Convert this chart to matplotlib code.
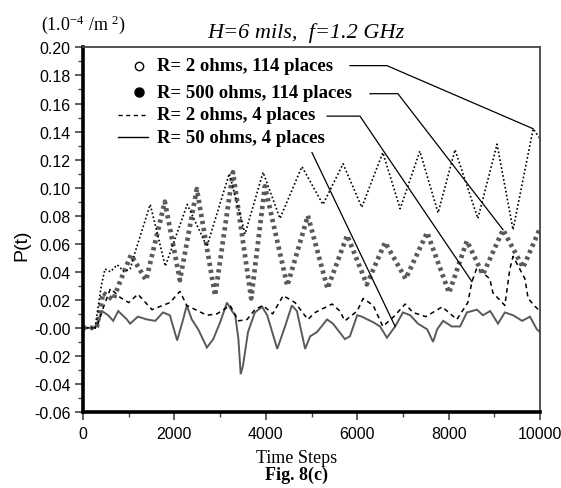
import matplotlib
matplotlib.use('Agg')
import matplotlib.pyplot as plt
from matplotlib.ticker import MultipleLocator, FuncFormatter

# Values (time step, P(t) in 1e-4/m^2)
# R= 2 ohms, 114 places (open circles, black dotted)
t_r2_114 = [0, 263, 400, 480, 600, 750, 900, 1030, 1140, 1470, 1800, 2280, 2710,
            3200, 3545, 3940, 4310, 4790, 5250, 5690, 6100, 6560, 6940, 7370,
            7770, 8140, 8640, 9060, 9410, 9850, 10000]
p_r2_114 = [0.0, 0.0, 0.030, 0.042, 0.040, 0.045, 0.040, 0.042, 0.054, 0.088, 0.044,
            0.088, 0.058, 0.110, 0.067, 0.111, 0.078, 0.115, 0.088, 0.117, 0.086,
            0.125, 0.085, 0.126, 0.082, 0.127, 0.078, 0.131, 0.070, 0.142, 0.135]

# R= 500 ohms, 114 places (filled circles, grey)
t_r500_114 = [0, 300, 440, 660, 810, 1050, 1380, 1790, 2120, 2490, 2890, 3280,
              3680, 3980, 4470, 4920, 5350, 5780, 6210, 6610, 7060, 7530, 8010,
              8400, 8750, 9190, 9630, 10000]
p_r500_114 = [0.0, 0.0, 0.025, 0.020, 0.033, 0.052, 0.034, 0.090, 0.034, 0.099,
              0.023, 0.111, 0.021, 0.101, 0.030, 0.080, 0.028, 0.066, 0.031, 0.061,
              0.035, 0.068, 0.025, 0.062, 0.038, 0.070, 0.043, 0.071]

# R= 2 ohms, 4 places (black dashed)
t_r2_4 = [0, 300, 450, 600, 800, 1000, 1200, 1510, 1900, 2120, 2270, 2710, 2930,
          3220, 3400, 3590, 3760, 3940, 4150, 4380, 4640, 4920, 5080, 5450, 5620,
          5730, 6000, 6130, 6350, 6560, 6800, 7050, 7220, 7500, 7860, 8180, 8420,
          8510, 8620, 8900, 8970, 9230, 9340, 9410, 9670, 9740, 9900, 10000]
p_r2_4 = [0.0, 0.0, 0.015, 0.028, 0.022, 0.018, 0.024, 0.013, 0.018, 0.026, 0.016,
          0.009, 0.010, 0.016, 0.005, 0.006, 0.013, 0.016, 0.010, 0.023, 0.018,
          0.006, 0.011, 0.017, 0.012, 0.005, 0.012, 0.021, 0.016, 0.001, 0.008,
          0.017, 0.011, 0.008, 0.015, 0.006, 0.018, 0.033, 0.043, 0.035, 0.025,
          0.016, 0.042, 0.051, 0.035, 0.021, 0.015, 0.012]

# R= 50 ohms, 4 places (grey solid)
t_r50_4 = [0, 263, 415, 550, 660, 770, 960, 1030, 1200, 1400, 1580, 1750, 1900,
           2060, 2190, 2270, 2380, 2520, 2710, 2850, 3000, 3150, 3260, 3330, 3400,
           3450, 3500, 3610, 3760, 3920, 4030, 4250, 4420, 4570, 4680, 4860, 4970,
           5120, 5340, 5470, 5730, 5840, 6000, 6100, 6350, 6500, 6650, 6830, 7000,
           7160, 7330, 7530, 7660, 7750, 7880, 8070, 8250, 8400, 8620, 8750, 8910,
           9080, 9230, 9410, 9610, 9780, 9930, 10000]
p_r50_4 = [0.0, 0.0, 0.012, 0.009, 0.005, 0.012, 0.006, 0.003, 0.008, 0.006, 0.005,
           0.011, 0.009, -0.009, 0.006, 0.016, 0.006, -0.001, -0.014, -0.008, 0.004,
           0.018, 0.012, 0.009, -0.008, -0.033, -0.027, -0.003, 0.011, 0.015, 0.009,
           -0.015, 0.001, 0.016, 0.012, -0.015, -0.006, -0.003, 0.006, 0.003, -0.008,
           -0.006, 0.009, 0.008, 0.004, 0.001, -0.007, 0.001, 0.011, 0.009, 0.003,
           -0.001, -0.010, -0.001, 0.005, 0.001, 0.001, 0.011, 0.013, 0.009, 0.012,
           0.003, 0.011, 0.009, 0.005, 0.008, -0.001, -0.003]

legend_labels = ['R= 2 ohms, 114 places', 'R= 500 ohms, 114 places',
                 'R= 2 ohms, 4 places', 'R= 50 ohms, 4 places']

GREY = '#5a5a5a'
SERIF = 'Liberation Serif'
SANS = 'Liberation Sans'


def run():
    figure = plt.figure(figsize=(5.61, 4.89), dpi=100)
    ax = figure.add_axes([0.148, 0.1554, 0.8146, 0.7456])

    # Curves
    ax.plot(t_r50_4, p_r50_4, color=GREY, lw=1.4, solid_joinstyle='miter')
    ax.plot(t_r2_4, p_r2_4, color='black', lw=1.1, linestyle=(0, (3, 2.5)))
    ax.plot(t_r500_114, p_r500_114, color=GREY, lw=3.4, linestyle=(0, (0.7, 0.8)),
            dash_capstyle='butt')
    ax.plot(t_r2_114, p_r2_114, color='black', lw=1.2, linestyle=(0, (1, 1.4)))

    # Legend drawn as text in the plot
    rows = [0.187, 0.168, 0.152, 0.136]
    ax.plot([1225], [rows[0]], marker='o', ms=6, mfc='white', mec='black', mew=1.0)
    ax.plot([1225], [rows[1]], marker='o', ms=6.5, mfc='black', mec='black')
    ax.plot([770, 1420], [rows[2], rows[2]], color='black', lw=1.0, linestyle=(0, (3, 2.5)))
    ax.plot([770, 1420], [rows[3], rows[3]], color='black', lw=1.0)
    for y, label in zip(rows, legend_labels):
        ax.text(1620, y, label, fontsize=13.5, fontweight='bold', family=SERIF,
                va='center', ha='left')

    # Leader lines from labels to curves
    leaders = [
        ([5840, 6650], rows[0], (t_r2_114[-2], p_r2_114[-2])),
        ([6280, 6890], 0.167, (t_r500_114[-3], p_r500_114[-3])),
        ([5340, 6060], 0.151, (t_r2_4[37], p_r2_4[37])),
        ([5010, 5010], 0.125, (t_r50_4[47], p_r50_4[47])),
    ]
    for xs, y, (tx, ty) in leaders:
        ax.plot([xs[0], xs[1], tx], [y, y, ty], color='black', lw=0.9)

    # Axes formatting
    ax.set_xlim(0, 10000)
    ax.set_ylim(-0.06, 0.20)
    ax.xaxis.set_major_locator(MultipleLocator(2000))
    ax.xaxis.set_minor_locator(MultipleLocator(1000))
    ax.yaxis.set_major_locator(MultipleLocator(0.02))
    ax.yaxis.set_minor_locator(MultipleLocator(0.01))
    ax.yaxis.set_major_formatter(FuncFormatter(
        lambda v, pos: '-0.00' if abs(v) < 1e-9 else f'{v:.2f}'))
    ax.tick_params(which='major', direction='out', length=6, width=1.2, color='#444',
                   labelsize=11.5)
    ax.tick_params(which='minor', direction='out', length=3.5, width=1.0, color='#444')
    for lab in ax.get_xticklabels() + ax.get_yticklabels():
        lab.set_family(SANS)
    ax.tick_params(axis='y', pad=3)
    ax.tick_params(axis='x', pad=4)

    ax.spines['left'].set_linewidth(2.6)
    ax.spines['bottom'].set_linewidth(2.6)
    for pos in ['top', 'right']:
        ax.spines[pos].set_linewidth(1.3)
        ax.spines[pos].set_color('#444')

    # Labels and titles
    figure.text(0.545, 0.932, 'H=6 mils,  f=1.2 GHz', fontsize=16, style='italic',
                family=SERIF, ha='center', va='center')
    figure.text(0.073, 0.949, r'(1.0$^{-4}$ /m $^{2}$)', fontsize=13, family=SERIF,
                ha='left', va='center')
    figure.text(0.039, 0.499, 'P(t)', fontsize=14, family=SANS, rotation=90,
                ha='center', va='center')
    figure.text(0.529, 0.063, 'Time Steps', fontsize=13, family=SERIF,
                ha='center', va='center')
    figure.text(0.529, 0.027, 'Fig. 8(c)', fontsize=13, fontweight='bold',
                family=SERIF, ha='center', va='center')

    figure.savefig('out.png', dpi=100)


if __name__ == '__main__':
    plt.rcParams['mathtext.fontset'] = 'custom'
    plt.rcParams['mathtext.rm'] = 'Liberation Serif'
    plt.rcParams['mathtext.it'] = 'Liberation Serif:italic'
    run()
